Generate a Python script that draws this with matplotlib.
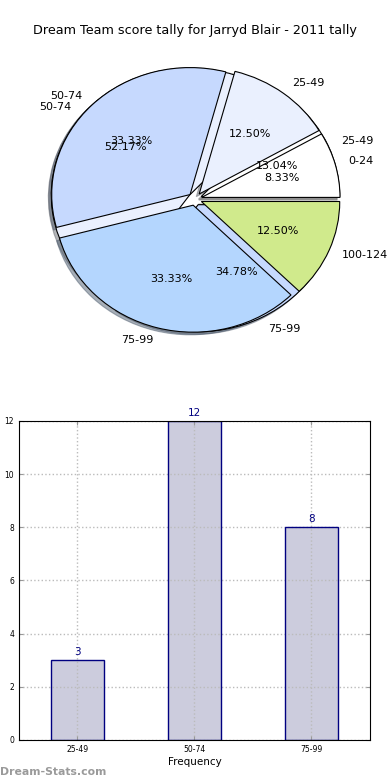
import matplotlib
matplotlib.use("Agg")
import matplotlib.pyplot as plt

# score bands for the two tallies
labels_all = ['0-24', '25-49', '50-74', '75-99', '100-124']
counts_all = [2, 3, 8, 8, 3]
labels_2011 = ['25-49', '50-74', '75-99']
counts_2011 = [3, 12, 8]

colors = ['#ffffff', '#eaf0fe', '#c6d9fe', '#b4d6fe', '#d0ea8c']

fig = plt.figure(figsize=(3.9, 7.8), dpi=100)
fig.text(0.5, 0.961, "Dream Team score tally for Jarryd Blair - 2011 tally",
         ha='center', va='center', fontsize=9.2)

# Pie chart (two tallies drawn over each other)
shadow = {'ox': -0.015, 'oy': -0.015, 'shade': 0.55}
ax1 = fig.add_axes([0.0564, 0.5413, 0.887, 0.407])
ax1.pie(counts_2011, labels=labels_2011, colors=colors[:3], autopct='%1.2f%%',
        explode=[0.05] * 3, shadow=shadow,
        wedgeprops={'edgecolor': 'black', 'linewidth': 0.8},
        textprops={'fontsize': 8})
ax1.pie(counts_all, labels=labels_all, colors=colors, autopct='%1.2f%%',
        explode=[0.05] * 5, shadow=shadow,
        wedgeprops={'edgecolor': 'black', 'linewidth': 0.8},
        textprops={'fontsize': 8})
ax1.set_aspect('auto')
ax1.set_xlim(-1.25, 1.25)
ax1.set_ylim(-1.25, 1.25)

# Bar chart of the 2011 tally
ax2 = fig.add_axes([0.0487, 0.0513, 0.9, 0.409])
x = range(len(labels_2011))
# fill below the grid, outline above it
ax2.bar(x, counts_2011, width=0.45, color='#ccccdd', linewidth=0, zorder=1)
ax2.bar(x, counts_2011, width=0.45, fill=False, edgecolor='#000080', linewidth=1, zorder=3)
for i, v in zip(x, counts_2011):
    ax2.text(i, v + 0.12, str(v), ha='center', va='bottom', color='#000080', fontsize=7.5)
ax2.set_xlim(-0.5, 2.5)
ax2.set_ylim(0, 12)
ax2.set_xticks(list(x))
ax2.set_xticklabels(labels_2011)
ax2.set_yticks(range(0, 13, 2))
ax2.tick_params(labelsize=5.5, direction='in', top=True, right=True, length=3, color='#999999')
ax2.grid(True, linestyle=':', color='#bbbbbb', linewidth=1)
ax2.set_axisbelow(False)
for sp in ax2.spines.values():
    sp.set_zorder(5)
ax2.set_xlabel("Frequency", fontsize=7.5, labelpad=2)
ax2.set_ylabel("Score Tally", fontsize=7.5)
ax2.yaxis.set_label_coords(-0.058, 0.5)

fig.text(0.0, 0.004, "Dream-Stats.com", color='#9a9a9a', fontsize=7.8, fontweight='bold',
         ha='left', va='bottom')

fig.savefig("out.png", dpi=100)
